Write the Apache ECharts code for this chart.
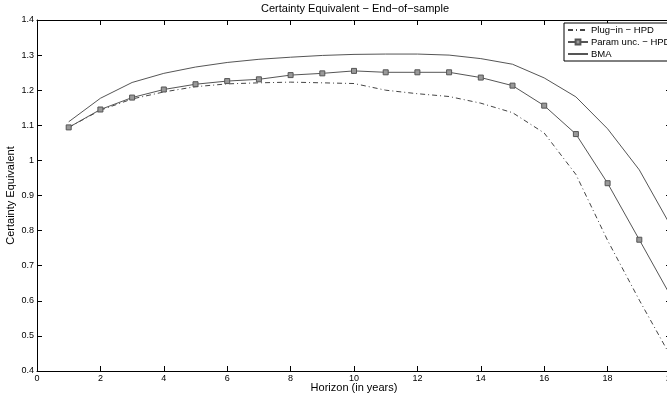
<!DOCTYPE html>
<html>
<head>
<meta charset="utf-8">
<script src="https://cdn.jsdelivr.net/npm/echarts@6/dist/echarts.min.js"></script>
<style>
    html, body { margin: 0; padding: 0; background: #fff; }
    #chart { width: 667px; height: 398px; }
</style>
</head>
<body>
<div id="chart"></div>
<script>
// horizon in years
var horizon = [1, 2, 3, 4, 5, 6, 7, 8, 9, 10, 11, 12, 13, 14, 15, 16, 17, 18, 19, 20];
var plugIn = [1.094, 1.143, 1.175, 1.195, 1.210, 1.218, 1.221, 1.223, 1.221, 1.219, 1.200, 1.190, 1.182, 1.163, 1.136, 1.078, 0.960, 0.772, 0.602, 0.440];
var paramUnc = [1.094, 1.145, 1.179, 1.202, 1.217, 1.226, 1.231, 1.243, 1.248, 1.255, 1.251, 1.251, 1.251, 1.236, 1.213, 1.156, 1.075, 0.935, 0.774, 0.612];
var bma = [1.110, 1.177, 1.222, 1.248, 1.266, 1.279, 1.288, 1.294, 1.299, 1.302, 1.303, 1.303, 1.300, 1.290, 1.274, 1.235, 1.181, 1.090, 0.973, 0.812];
var seriesNames = ['Plug\u2212in \u2212 HPD', 'Param unc. \u2212 HPD', 'BMA'];

function pairs(ys) {
    return horizon.map(function (x, i) { return [x, ys[i]]; });
}

var font = 'Liberation Sans, Arial, sans-serif';
var axisBase = {
    axisLine: { show: true, onZero: false, lineStyle: { color: '#000', width: 1 } },
    axisTick: { show: true, inside: true, length: 5, lineStyle: { color: '#000' } },
    splitLine: { show: false }
};

var chart = echarts.init(document.getElementById('chart'), null, { renderer: 'canvas' });
chart.setOption({
    animation: false,
    backgroundColor: '#fff',
    title: {
        text: 'Certainty Equivalent \u2212 End\u2212of\u2212sample',
        left: 355,
        top: 3,
        textAlign: 'center',
        padding: 0,
        textStyle: { fontFamily: font, fontSize: 11, fontWeight: 'normal', color: '#000' }
    },
    grid: { left: 37, top: 20, right: -4, bottom: 27, outerBoundsMode: 'none', containLabel: false },
    legend: {
        orient: 'vertical',
        left: 564,
        top: 23,
        padding: [2, 30, 2, 3],
        itemGap: 2,
        itemWidth: 20,
        itemHeight: 6,
        backgroundColor: '#fff',
        borderColor: '#000',
        borderWidth: 1,
        borderRadius: 0,
        textStyle: { fontFamily: font, fontSize: 9.5, color: '#000', padding: [0, 0, 0, -2] },
        data: seriesNames
    },
    xAxis: [
        Object.assign({}, axisBase, {
            type: 'value', min: 0, max: 20, interval: 2, position: 'bottom',
            name: 'Horizon (in years)', nameLocation: 'middle', nameGap: 11, nameMoveOverlap: false,
            nameTextStyle: { fontFamily: font, fontSize: 11, color: '#000' },
            axisLabel: { fontFamily: font, fontSize: 9, color: '#000', margin: 3, showMinLabel: true, showMaxLabel: true }
        }),
        Object.assign({}, axisBase, {
            type: 'value', min: 0, max: 20, interval: 2, position: 'top',
            axisLabel: { show: false }
        })
    ],
    yAxis: [
        Object.assign({}, axisBase, {
            type: 'value', min: 0.4, max: 1.4, interval: 0.1, position: 'left',
            name: 'Certainty Equivalent', nameLocation: 'middle', nameGap: 21, nameRotate: 90, nameMoveOverlap: false,
            nameTextStyle: { fontFamily: font, fontSize: 11, color: '#000' },
            axisLabel: { fontFamily: font, fontSize: 9, color: '#000', margin: 3, showMinLabel: true, showMaxLabel: true }
        }),
        Object.assign({}, axisBase, {
            type: 'value', min: 0.4, max: 1.4, interval: 0.1, position: 'right',
            axisLabel: { show: false }
        })
    ],
    series: [
        {
            name: seriesNames[0],
            type: 'line',
            data: pairs(plugIn),
            symbol: 'none',
            lineStyle: { color: '#444', width: 1, type: [5, 3, 1, 3] },
            itemStyle: { color: '#444', opacity: 0 }
        },
        {
            name: seriesNames[1],
            type: 'line',
            data: pairs(paramUnc),
            symbol: 'rect',
            symbolSize: 5,
            showAllSymbol: true,
            lineStyle: { color: '#555', width: 1 },
            itemStyle: { color: '#999', borderColor: '#555', borderWidth: 1 }
        },
        {
            name: seriesNames[2],
            type: 'line',
            data: pairs(bma),
            symbol: 'none',
            lineStyle: { color: '#555', width: 1 },
            itemStyle: { color: '#555', opacity: 0 }
        }
    ]
});
</script>
</body>
</html>
